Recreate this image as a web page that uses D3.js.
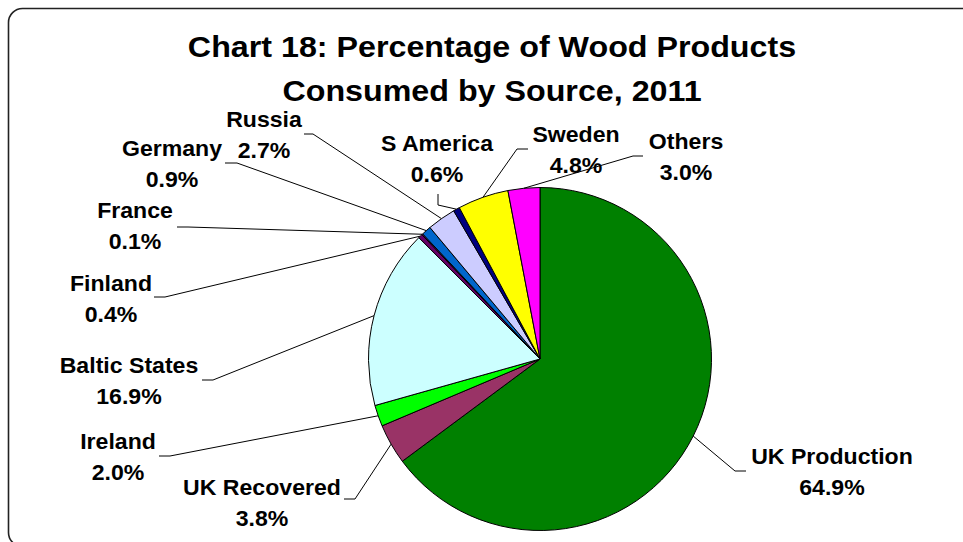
<!DOCTYPE html>
<html>
<head>
<meta charset="utf-8">
<script src="https://cdn.jsdelivr.net/npm/d3@7"></script>
<style>
  html, body { margin: 0; padding: 0; background: #fff; }
  svg { display: block; }
  text { font-family: "Liberation Sans", Arial, sans-serif; font-weight: bold; fill: #000; }
</style>
</head>
<body>
<script>
// ---- data ----
const categories = ["UK Production", "UK Recovered", "Ireland", "Baltic States", "Finland",
                    "France", "Germany", "Russia", "S America", "Sweden", "Others"];
const values = [64.9, 3.8, 2.0, 16.9, 0.4, 0.1, 0.9, 2.7, 0.6, 4.8, 3.0];
const valueLabels = ["64.9%", "3.8%", "2.0%", "16.9%", "0.4%", "0.1%", "0.9%", "2.7%", "0.6%", "4.8%", "3.0%"];
const colors = ["#008000", "#993366", "#00FF00", "#CCFFFF", "#660066",
                "#800080", "#0066CC", "#CCCCFF", "#000080", "#FFFF00", "#FF00FF"];
const titleLines = ["Chart 18: Percentage of Wood Products", "Consumed by Source, 2011"];

// ---- layout (label placement: centre x, first baseline; leader elbow and end) ----
const labelPos = [
  {x: 832, y: 464, ex: 735, ey: 471, hx: 746, hy: 471},
  {x: 262, y: 495, ex: 355, ey: 499, hx: 344, hy: 499},
  {x: 118, y: 449, ex: 170, ey: 456, hx: 159, hy: 456},
  {x: 129, y: 373, ex: 213, ey: 380, hx: 202, hy: 380},
  {x: 111, y: 291, ex: 165, ey: 297, hx: 154, hy: 297},
  {x: 135, y: 218, ex: 188, ey: 227, hx: 177, hy: 227},
  {x: 172, y: 156, ex: 237, ey: 163, hx: 225, hy: 163},
  {x: 264, y: 127, ex: 313, ey: 134, hx: 304, hy: 134},
  {x: 437, y: 151, ex: 438, ey: 205, hx: 438, hy: 194},
  {x: 576, y: 142, ex: 517, ey: 149, hx: 528, hy: 149},
  {x: 686, y: 149, ex: 633, ey: 156, hx: 643, hy: 156}
];

const W = 963, H = 542;
const cx = 540, cy = 359, R = 171.5;

const svg = d3.select("body").append("svg").attr("width", W).attr("height", H);

// chart area border (extends past right and bottom edges)
svg.append("rect")
  .attr("x", 8.5).attr("y", 8.5)
  .attr("width", 1000).attr("height", 538)
  .attr("rx", 14).attr("ry", 14)
  .attr("fill", "none").attr("stroke", "#222").attr("stroke-width", 1.6);

// title
svg.append("g").selectAll("text").data(titleLines).join("text")
  .attr("transform", (d, i) => `translate(492,${57 + i * 44}) scale(1.075,1)`)
  .attr("text-anchor", "middle")
  .attr("font-size", 30)
  .text(d => d);

const data = categories.map((c, i) => ({name: c, value: values[i], label: valueLabels[i], color: colors[i], pos: labelPos[i]}));

const pie = d3.pie().sort(null).value(d => d.value).startAngle(0).endAngle(2 * Math.PI);
const arcs = pie(data);
const arc = d3.arc().innerRadius(0).outerRadius(R);
const edgeArc = d3.arc().innerRadius(R).outerRadius(R);

const g = svg.append("g").attr("transform", `translate(${cx},${cy})`);
g.selectAll("path").data(arcs).join("path")
  .attr("d", arc)
  .attr("fill", d => d.data.color)
  .attr("stroke", "#000")
  .attr("stroke-width", 1)
  .attr("stroke-linejoin", "round");

// leader lines
svg.append("g").selectAll("polyline").data(arcs).join("polyline")
  .attr("points", d => {
    const [x, y] = edgeArc.centroid(d);
    const p = d.data.pos;
    return [[cx + x, cy + y], [p.ex, p.ey], [p.hx, p.hy]].map(q => q.join(",")).join(" ");
  })
  .attr("fill", "none")
  .attr("stroke", "#000")
  .attr("stroke-width", 1);

// labels
const lg = svg.append("g");
data.forEach(d => {
  [d.name, d.label].forEach((t, i) => {
    lg.append("text")
      .attr("transform", `translate(${d.pos.x},${d.pos.y + i * 31}) scale(1.05,1)`)
      .attr("text-anchor", "middle")
      .attr("font-size", 22)
      .text(t);
  });
});
</script>
</body>
</html>
